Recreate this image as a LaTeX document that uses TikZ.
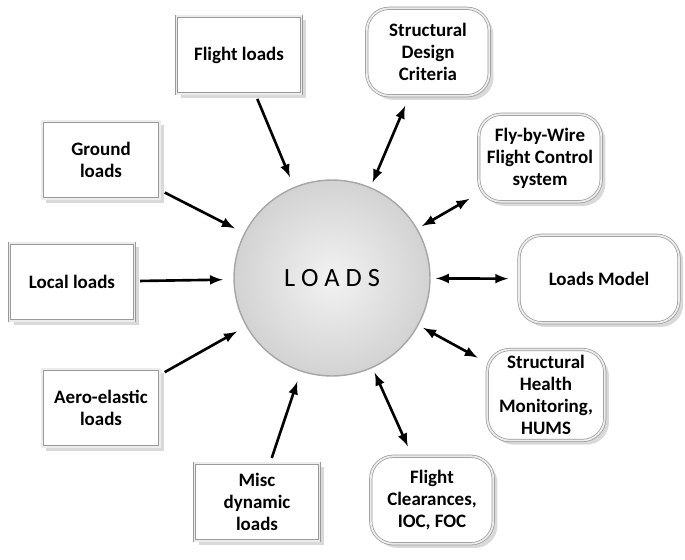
\documentclass[tikz,border=0pt]{standalone}
\usepackage{fontspec}
\setmainfont{Carlito}
\usetikzlibrary{shadows}
\begin{document}
\begin{tikzpicture}[x=0.02cm,y=-0.02cm,
    every node/.style={font=\bfseries\fontsize{10.8}{12.5}\selectfont, align=center},
    load/.style={rectangle, draw=gray!80, double=gray!15, double distance=1pt, fill=white,
        drop shadow={opacity=0.3}, minimum width=2.5cm, minimum height=1.55cm},
    use/.style={rectangle, rounded corners=0.45cm, draw=gray!80, double=gray!15, double distance=1pt, fill=white,
        drop shadow={opacity=0.3}, minimum width=2.45cm, minimum height=1.75cm},
    arr/.style={-latex, line width=1.5pt, shorten >=6pt, shorten <=3pt},
    darr/.style={latex-latex, line width=1.5pt, shorten >=3pt, shorten <=6pt}
]
\useasboundingbox (0,0) rectangle (685,559);
% central circle
\node[circle, draw=gray!70, thick, minimum size=3.92cm, inner color=gray!10, outer color=gray!35,
    font=\fontsize{15}{17}\selectfont] (loads) at (332,278) {L O A D S};

% load sources
\node[load] (flight) at (239,55) {Flight loads};
\node[load, minimum width=2.35cm] (ground) at (101,160) {Ground\\loads};
\node[load] (local) at (72,282) {Local loads};
\node[load, minimum width=2.35cm] (aero) at (101,408) {Aero-elastic\\loads};
\node[load] (misc) at (257,502) {Misc\\dynamic\\loads};

% users of loads
\node[use] (design) at (428,52) {Structural\\Design\\Criteria};
\node[use] (fbw) at (540,158) {Fly-by-Wire\\Flight Control\\system};
\node[use, minimum width=3.2cm] (model) at (599,279) {Loads Model};
\node[use, minimum width=2.35cm] (hums) at (546,395) {Structural\\Health\\Monitoring,\\HUMS};
\node[use] (clear) at (432,500) {Flight\\Clearances,\\IOC, FOC};

% arrows
\foreach \n in {flight,ground,local,aero,misc}
    \draw[arr] (\n) -- (loads);
\foreach \n in {design,fbw,model,hums,clear}
    \draw[darr] (\n) -- (loads);
\end{tikzpicture}
\end{document}
